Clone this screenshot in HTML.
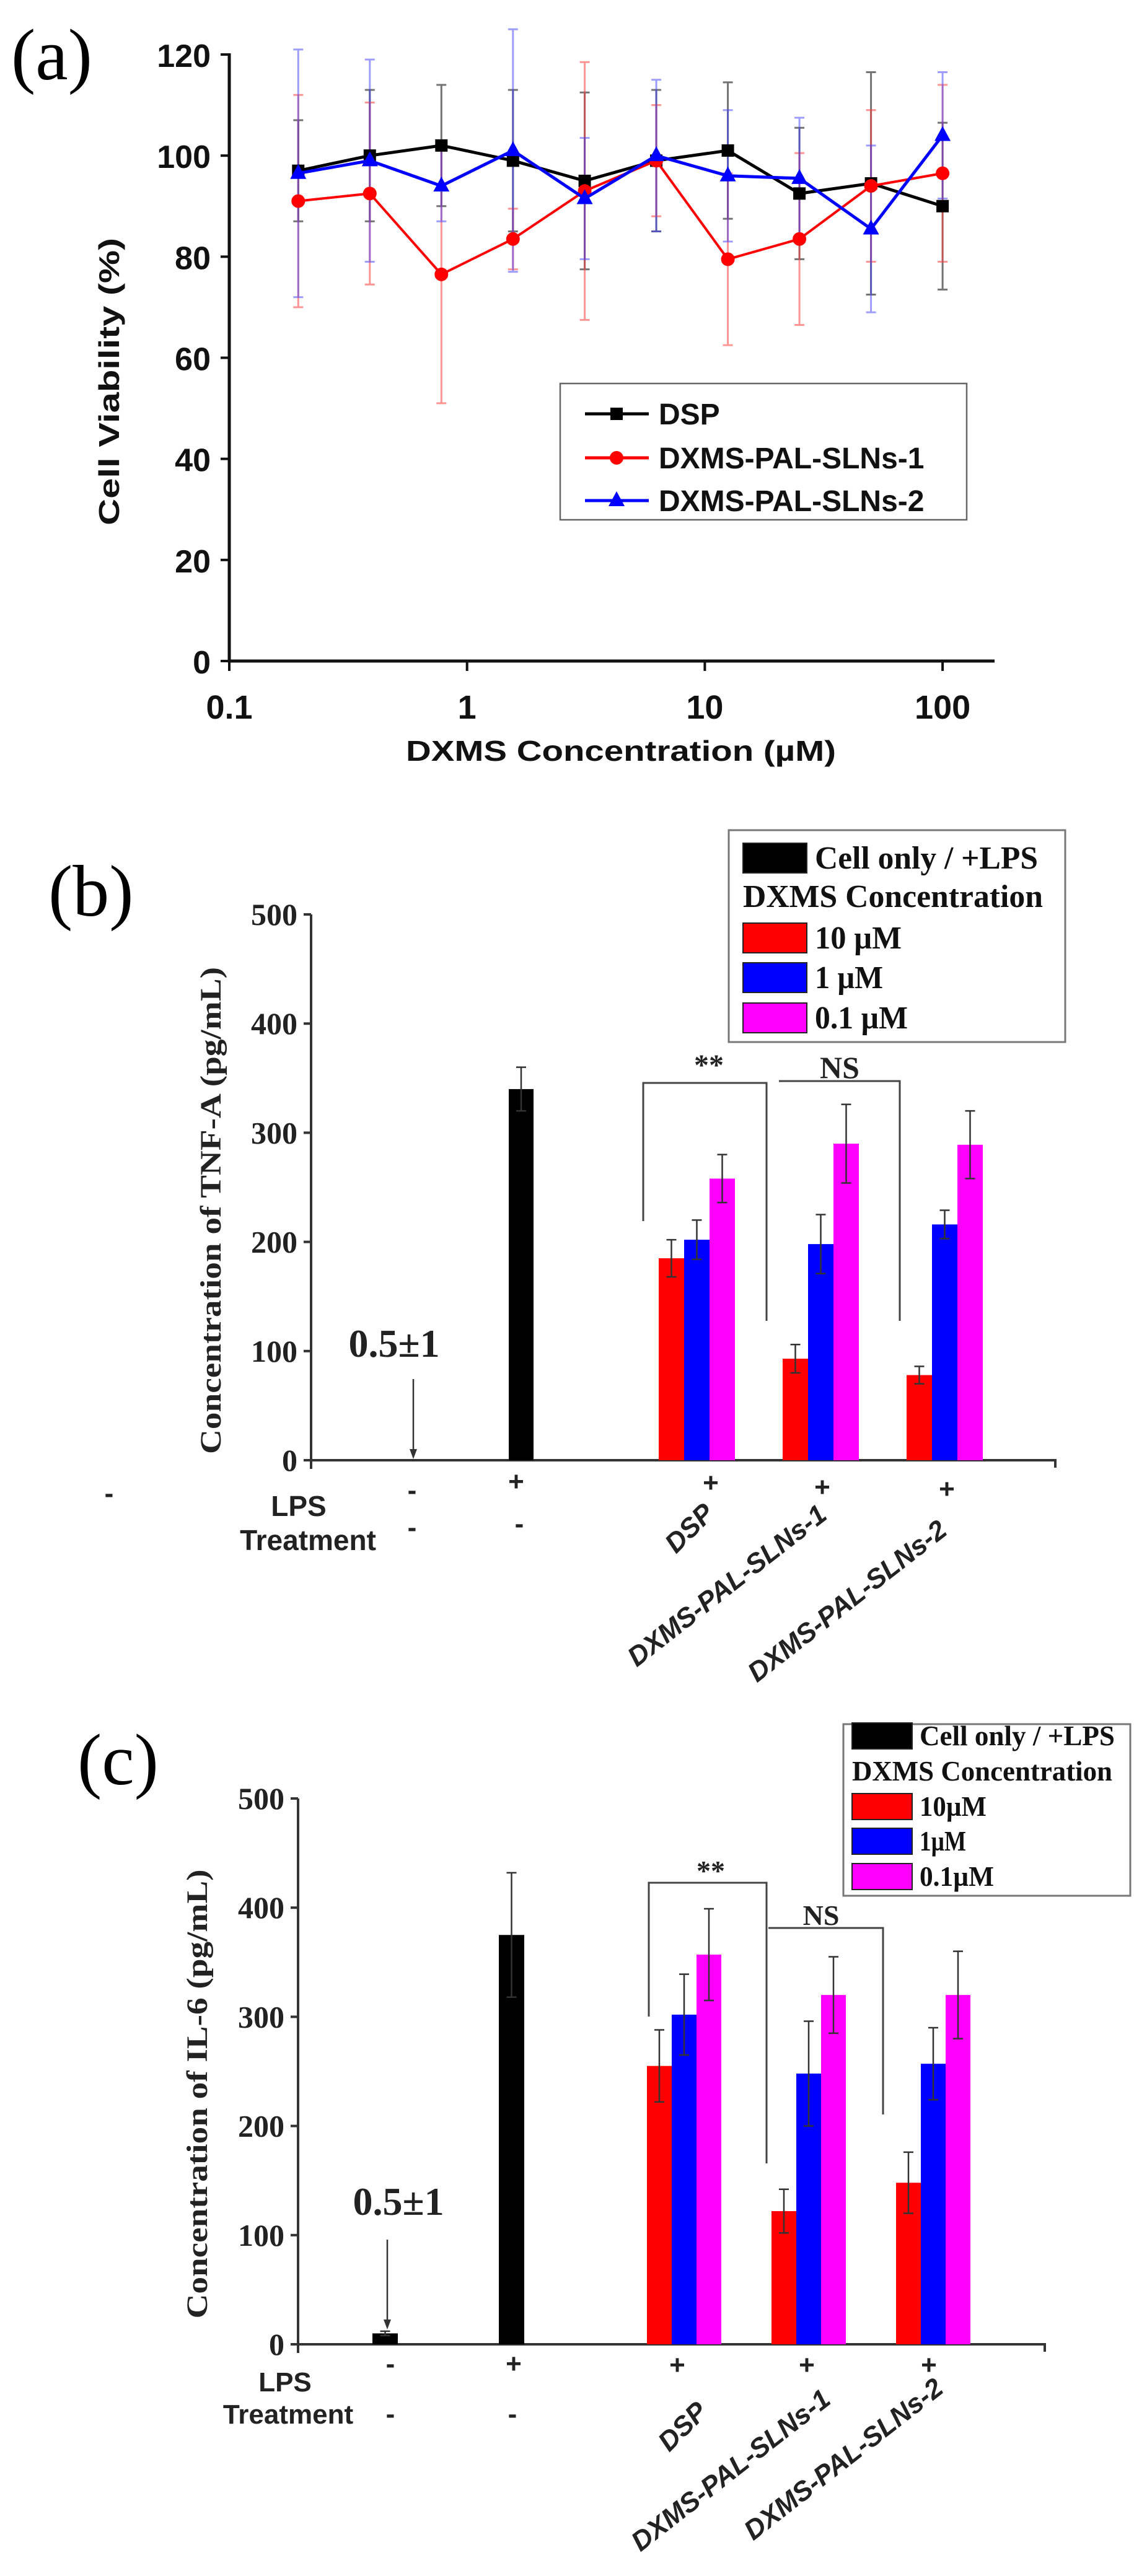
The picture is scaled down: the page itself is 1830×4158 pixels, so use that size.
<!DOCTYPE html>
<html><head><meta charset="utf-8">
<style>
html,body{margin:0;padding:0;background:#fff;}
svg{display:block;}
.ar{font-family:"Liberation Sans",Arial,sans-serif;font-weight:bold;}
.tr{font-family:"Liberation Serif","Times New Roman",serif;font-weight:bold;}
</style></head>
<body>
<svg id="fig" width="1830" height="4158" viewBox="0 0 1830 4158" xmlns="http://www.w3.org/2000/svg">
<g id="pa"></g>
<g id="pb"></g>
<g id="pc"></g>
</svg>
<script>
// ---------- Panel (a) data ----------
const aConc = [0.195, 0.39, 0.78, 1.56, 3.125, 6.25, 12.5, 25, 50, 100];
const aDSP = [97, 100, 102, 99, 95, 99, 101, 92.5, 94.5, 90];
const aDSPerr = [10, 13, 12, 14, 17.5, 14, 13.5, 13, 22, 16.5];
const aSLN1 = [91, 92.5, 76.5, 83.5, 93, 99, 79.5, 83.5, 94, 96.5];
const aSLN1err = [21, 18, 25.5, 6, 25.5, 11, 17, 17, 15, 17.5];
const aSLN2 = [96.5, 99, 94, 101, 91.5, 100, 96, 95.5, 85.5, 104];
const aSLN2err = [24.5, 20, 7, 24, 12, 15, 13, 12, 16.5, 12.5];
const aYTicks = [0, 20, 40, 60, 80, 100, 120];
const aXTicks = [0.1, 1, 10, 100];
const aXTickLabels = ["0.1", "1", "10", "100"];
const aSeriesNames = ["DSP", "DXMS-PAL-SLNs-1", "DXMS-PAL-SLNs-2"];

// ---------- Panel (b) data ----------
const bGroups = ["DSP", "DXMS-PAL-SLNs-1", "DXMS-PAL-SLNs-2"];
const bControl = [0, 340];
const bControlErr = [0, 20];
const b10 = [185, 93, 78];
const b10err = [17, 13, 8];
const b1 = [202, 198, 216];
const b1err = [18, 27, 13];
const b01 = [258, 290, 289];
const b01err = [22, 36, 31];
const bYTicks = [0, 100, 200, 300, 400, 500];

// ---------- Panel (c) data ----------
const cGroups = ["DSP", "DXMS-PAL-SLNs-1", "DXMS-PAL-SLNs-2"];
const cControl = [10, 375];
const cControlErr = [2, 57];
const c10 = [255, 122, 148];
const c10err = [33, 20, 28];
const c1 = [302, 248, 257];
const c1err = [37, 48, 33];
const c01 = [357, 320, 320];
const c01err = [42, 35, 40];
const cYTicks = [0, 100, 200, 300, 400, 500];

const NS = "http://www.w3.org/2000/svg";
function mk(parent, tag, attrs, text) {
  const e = document.createElementNS(NS, tag);
  for (const k in attrs) e.setAttribute(k, attrs[k]);
  if (text !== undefined) e.textContent = text;
  parent.appendChild(e);
  return e;
}

// ================= PANEL A =================
(function () {
  const g = document.getElementById('pa');
  const x0 = 370, y0 = 1067, yTop = 88;
  const dec = 383.7;
  const X = v => x0 + (Math.log10(v) + 1) * dec;
  const Y = v => y0 - (v / 120) * (y0 - yTop);
  let t;
  t = mk(g, 'text', {x: 18, y: 128, 'font-family': '"Liberation Serif",serif', 'font-size': 118});
  t.textContent = '(a)';
  
  
  let ax = mk(g, 'path', {d: `M${x0} ${yTop - 2} L${x0} ${y0} L1605 ${y0}`, fill: 'none', stroke: '#111', 'stroke-width': 5});
  
  
  aYTicks.forEach(v => {
    const l = mk(g, 'line', {x1: x0 - 14, x2: x0, y1: Y(v), y2: Y(v), stroke: '#111', 'stroke-width': 4});
    
    
    const tx = mk(g, 'text', {x: x0 - 30, y: Y(v) + 20, 'text-anchor': 'end', class: 'ar', 'font-size': 52, fill: '#111'}, String(v));
    
    
  });
  aXTicks.forEach((v, i) => {
    const l = mk(g, 'line', {x1: X(v), x2: X(v), y1: y0, y2: y0 + 16, stroke: '#111', 'stroke-width': 4});
    
    
    const tx = mk(g, 'text', {x: X(v), y: 1160, 'text-anchor': 'middle', class: 'ar', 'font-size': 54, fill: '#111'}, aXTickLabels[i]);
    
    
  });
  t = mk(g, 'text', {x: 1002, y: 1228, 'text-anchor': 'middle', class: 'ar', 'font-size': 46, fill: '#111', textLength: 694, lengthAdjust: 'spacingAndGlyphs'}, 'DXMS Concentration (\u00b5M)');
  
  
  t = mk(g, 'text', {x: 0, y: 0, 'text-anchor': 'middle', class: 'ar', 'font-size': 46, fill: '#111', transform: 'translate(192,616) rotate(-90)', textLength: 464, lengthAdjust: 'spacingAndGlyphs'}, 'Cell Viability (%)');
  
  

  const series = [
    {v: aDSP, e: aDSPerr, c: '#000', ec: 'rgba(0,0,0,0.55)', m: 'sq'},
    {v: aSLN1, e: aSLN1err, c: '#f00', ec: 'rgba(255,60,60,0.55)', m: 'ci'},
    {v: aSLN2, e: aSLN2err, c: '#00f', ec: 'rgba(60,60,255,0.5)', m: 'tr'}
  ];
  series.forEach((s, si) => {
    const sg = mk(g, 'g', {});
    
    
    aConc.forEach((c, i) => {
      const x = X(c);
      const eb = mk(sg, 'path', {d: `M${x} ${Y(s.v[i] + s.e[i])} L${x} ${Y(s.v[i] - s.e[i])} M${x - 8} ${Y(s.v[i] + s.e[i])} L${x + 8} ${Y(s.v[i] + s.e[i])} M${x - 8} ${Y(s.v[i] - s.e[i])} L${x + 8} ${Y(s.v[i] - s.e[i])}`, stroke: s.ec, 'stroke-width': 3, fill: 'none'});
      
      
    });
  });
  series.forEach((s, si) => {
    const pts = aConc.map((c, i) => X(c) + ',' + Y(s.v[i])).join(' ');
    const pl = mk(g, 'polyline', {points: pts, fill: 'none', stroke: s.c, 'stroke-width': si === 1 ? 4 : 5});
    
    
    aConc.forEach((c, i) => {
      const x = X(c), y = Y(s.v[i]);
      let m;
      if (s.m === 'sq') m = mk(g, 'rect', {x: x - 10, y: y - 10, width: 20, height: 20, fill: s.c});
      else if (s.m === 'ci') m = mk(g, 'circle', {cx: x, cy: y, r: 11, fill: s.c});
      else m = mk(g, 'polygon', {points: `${x},${y - 15} ${x - 13},${y + 9} ${x + 13},${y + 9}`, fill: s.c});
      
      
    });
  });
  const lg = mk(g, 'g', {});
  
  
  mk(lg, 'rect', {x: 904, y: 619, width: 656, height: 220, fill: '#fff', stroke: '#666', 'stroke-width': 2.5});
  const ly = [668, 739, 808];
  series.forEach((s, i) => {
    const e = mk(lg, 'g', {});
    
    
    mk(e, 'line', {x1: 944, x2: 1047, y1: ly[i], y2: ly[i], stroke: s.c, 'stroke-width': 5});
    const x = 995, y = ly[i];
    if (s.m === 'sq') mk(e, 'rect', {x: x - 10, y: y - 10, width: 20, height: 20, fill: s.c});
    else if (s.m === 'ci') mk(e, 'circle', {cx: x, cy: y, r: 11, fill: s.c});
    else mk(e, 'polygon', {points: `${x},${y - 15} ${x - 13},${y + 9} ${x + 13},${y + 9}`, fill: s.c});
    mk(e, 'text', {x: 1063, y: y + 17, class: 'ar', 'font-size': 48, fill: '#111'}, aSeriesNames[i]);
  });
})();

// ================= BAR PANELS =================
function barPanel(cfg) {
  const g = document.getElementById(cfg.id);
  const Y = v => cfg.y0 - v * cfg.ppu;
  let t;
  t = mk(g, 'text', {x: cfg.lblX, y: cfg.lblY, 'font-family': '"Liberation Serif",serif', 'font-size': 118});
  t.textContent = cfg.letter;
  
  
  const ax = mk(g, 'path', {d: `M${cfg.ax} ${Y(500)} L${cfg.ax} ${cfg.y0} L${cfg.xEnd} ${cfg.y0} L${cfg.xEnd} ${cfg.y0 + 12}`, fill: 'none', stroke: '#333', 'stroke-width': 4});
  
  
  mk(g, 'line', {x1: cfg.ax, x2: cfg.ax, y1: cfg.y0, y2: cfg.y0 + 14, stroke: '#333', 'stroke-width': 4});
  cfg.ticks.forEach(v => {
    const l = mk(g, 'line', {x1: cfg.ax - 12, x2: cfg.ax, y1: Y(v), y2: Y(v), stroke: '#333', 'stroke-width': 4});
    
    
    const tx = mk(g, 'text', {x: cfg.ax - 22, y: Y(v) + 17, 'text-anchor': 'end', class: 'tr', 'font-size': 50, fill: '#222'}, String(v));
    
    
  });
  t = mk(g, 'text', {x: 0, y: 0, 'text-anchor': 'middle', class: 'tr', 'font-size': 48, fill: '#222', transform: `translate(${cfg.ylabX},${cfg.ylabY}) rotate(-90)`, textLength: cfg.ylabLen, lengthAdjust: 'spacingAndGlyphs'}, cfg.ylab);
  
  

  function bar(x, w, v, e, col, name) {
    const r = mk(g, 'rect', {x: x, y: Y(v), width: w, height: v * cfg.ppu, fill: col});
    
    
    if (e > 0) {
      const cx = x + w / 2;
      const eb = mk(g, 'path', {d: `M${cx} ${Y(v + e)} L${cx} ${Y(v - e)} M${cx - 8} ${Y(v + e)} L${cx + 8} ${Y(v + e)} M${cx - 8} ${Y(v - e)} L${cx + 8} ${Y(v - e)}`, stroke: '#333', 'stroke-width': 2.5, fill: 'none'});
      
      
    }
  }
  cfg.ctrlX.forEach((x, i) => { if (cfg.ctrl[i] > 0) bar(x, cfg.ctrlW, cfg.ctrl[i], cfg.ctrlErr[i], '#000', 'bar-control-' + i); });
  cfg.groups.forEach((gname, i) => {
    const gx = cfg.g0 + i * cfg.gstep;
    bar(gx, cfg.bw, cfg.d10[i], cfg.e10[i], '#f00', 'bar-10um-' + i);
    bar(gx + cfg.bw, cfg.bw, cfg.d1[i], cfg.e1[i], '#00f', 'bar-1um-' + i);
    bar(gx + 2 * cfg.bw, cfg.bw, cfg.d01[i], cfg.e01[i], '#f0f', 'bar-0.1um-' + i);
  });
  const ar = mk(g, 'g', {});
  
  
  mk(ar, 'line', {x1: cfg.arX, x2: cfg.arX, y1: cfg.arY1, y2: cfg.arY2 - 14, stroke: '#333', 'stroke-width': 2.5});
  mk(ar, 'polygon', {points: `${cfg.arX - 6},${cfg.arY2 - 16} ${cfg.arX + 6},${cfg.arY2 - 16} ${cfg.arX},${cfg.arY2}`, fill: '#333'});
  mk(ar, 'text', {x: cfg.txX, y: cfg.txY, 'text-anchor': 'middle', class: 'tr', 'font-size': 64, fill: '#222'}, '0.5\u00b11');
  cfg.brackets.forEach(b => {
    const bg = mk(g, 'g', {});
    
    
    mk(bg, 'path', {d: b.d, fill: 'none', stroke: '#444', 'stroke-width': 3});
    mk(bg, 'text', {x: b.tx, y: b.ty, 'text-anchor': 'middle', class: 'tr', 'font-size': b.fs, fill: '#222'}, b.t);
  });
  const lg = mk(g, 'g', {});
  
  
  const L = cfg.leg;
  mk(lg, 'rect', {x: L.x, y: L.y, width: L.w, height: L.h, fill: '#fff', stroke: '#777', 'stroke-width': 3});
  const cols = ['#000', null, '#f00', '#00f', '#f0f'];
  L.items.forEach((txt, i) => {
    const e = mk(lg, 'g', {});
    
    
    const cy = L.ys[i];
    if (cols[i]) {
      mk(e, 'rect', {x: L.sx, y: cy - L.sh / 2, width: L.sw, height: L.sh, fill: cols[i], stroke: '#222', 'stroke-width': 2});
      mk(e, 'text', {x: L.tx, y: cy + L.fs * 0.33, class: 'tr', 'font-size': L.fs, fill: '#111', textLength: L.lens[i], lengthAdjust: 'spacingAndGlyphs'}, txt);
    } else {
      mk(e, 'text', {x: L.sx, y: cy + L.fs * 0.33, class: 'tr', 'font-size': L.fs, fill: '#111', textLength: L.lens[i], lengthAdjust: 'spacingAndGlyphs'}, txt);
    }
  });
  const rw = mk(g, 'g', {});
  
  
  cfg.rowText.forEach(r => {
    const a = {x: r[0], y: r[1], class: 'ar', 'font-size': r[3] || 44, fill: '#222', 'text-anchor': r[4] || 'middle'};
    mk(rw, 'text', a, r[2]);
  });
  cfg.groups.forEach((gname, i) => {
    const p = cfg.rot[i];
    const t = mk(rw, 'text', {x: 0, y: 0, 'text-anchor': 'end', class: 'ar', 'font-style': 'italic', 'font-size': 44, fill: '#222', transform: `translate(${p[0]},${p[1]}) rotate(${p[2]})`}, gname);
    
    
  });
}

barPanel({
  id: 'pb', letter: '(b)', lblX: 78, lblY: 1478,
  y0: 2357, ppu: 1.762, ax: 502, xEnd: 1703, ticks: bYTicks,
  ylab: 'Concentration of TNF-A (pg/mL)', ylabX: 356, ylabY: 1954, ylabLen: 786,
  ctrl: bControl, ctrlErr: bControlErr, ctrlX: [650, 821], ctrlW: 40,
  groups: bGroups, d10: b10, e10: b10err, d1: b1, e1: b1err, d01: b01, e01: b01err,
  g0: 1063, gstep: 200, bw: 41,
  arX: 667, arY1: 2226, arY2: 2355, txX: 636, txY: 2190,
  brackets: [
    {d: 'M1038 1971 L1038 1748 L1237 1748 L1237 2132', t: '**', tx: 1144, ty: 1735, fs: 48},
    {d: 'M1257 1745 L1452 1745 L1452 2132', t: 'NS', tx: 1355, ty: 1740, fs: 50}
  ],
  leg: {x: 1176, y: 1340, w: 543, h: 342, sx: 1199, sw: 103, sh: 48, tx: 1315, fs: 52,
        ys: [1385, 1447, 1514, 1578, 1643],
        items: ['Cell only / +LPS', 'DXMS Concentration', '10 \u00b5M', '1 \u00b5M', '0.1 \u00b5M'],
        lens: [360, 484, 140, 110, 150]},
  rowText: [
    [176, 2425, '-', 44], [482, 2447, 'LPS', 46], [497, 2502, 'Treatment', 46],
    [665, 2420, '-', 44], [833, 2406, '+', 44], [665, 2480, '-', 44], [838, 2474, '-', 44],
    [1147, 2408, '+', 44], [1327, 2415, '+', 44], [1528, 2418, '+', 44]
  ],
  rot: [[1155, 2445, -45], [1337, 2450, -38], [1531, 2475, -38]]
});

barPanel({
  id: 'pc', letter: '(c)', lblX: 125, lblY: 2880,
  y0: 3784, ppu: 1.762, ax: 481, xEnd: 1686, ticks: cYTicks,
  ylab: 'Concentration of IL-6 (pg/mL)', ylabX: 334, ylabY: 3380, ylabLen: 725,
  ctrl: cControl, ctrlErr: cControlErr, ctrlX: [601, 805], ctrlW: 41,
  groups: cGroups, d10: c10, e10: c10err, d1: c1, e1: c1err, d01: c01, e01: c01err,
  g0: 1044, gstep: 201, bw: 40,
  arX: 625, arY1: 3615, arY2: 3760, txX: 643, txY: 3575,
  brackets: [
    {d: 'M1047 3255 L1047 3039 L1237 3039 L1237 3492', t: '**', tx: 1147, ty: 3035, fs: 46},
    {d: 'M1240 3112 L1425 3112 L1425 3413', t: 'NS', tx: 1325, ty: 3107, fs: 46}
  ],
  leg: {x: 1361, y: 2783, w: 463, h: 277, sx: 1375, sw: 97, sh: 42, tx: 1484, fs: 46,
        ys: [2802, 2859, 2916, 2972, 3029],
        items: ['Cell only / +LPS', 'DXMS Concentration', '10\u00b5M', '1\u00b5M', '0.1\u00b5M'],
        lens: [315, 420, 108, 75, 120]},
  rowText: [
    [460, 3860, 'LPS', 44], [465, 3912, 'Treatment', 44],
    [630, 3830, '-', 44], [829, 3830, '+', 44], [630, 3911, '-', 44], [827, 3911, '-', 44],
    [1093, 3832, '+', 44], [1302, 3832, '+', 44], [1499, 3832, '+', 44]
  ],
  rot: [[1144, 3895, -45], [1343, 3878, -38], [1525, 3860, -38]]
});
</script>
</body></html>
